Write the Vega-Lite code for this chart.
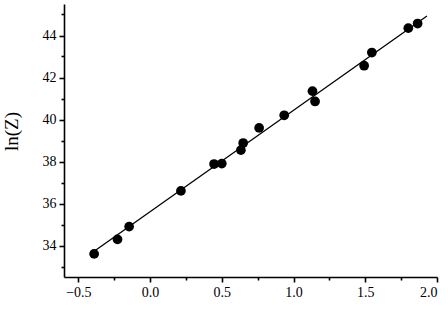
{
  "$schema": "https://vega.github.io/schema/vega-lite/v6.json",
  "width": 373,
  "height": 273,
  "autosize": "none",
  "padding": {"left": 64, "top": 4, "right": 11, "bottom": 35},
  "background": "white",
  "config": {
    "view": {"stroke": null},
    "axis": {"grid": false, "labelFont": "Liberation Serif", "titleFont": "Liberation Serif", "labelColor": "black", "titleColor": "black", "domainColor": "black", "tickColor": "black", "domainWidth": 1.6, "tickWidth": 1.6, "labelFontSize": 14}
  },
  "datasets": {
    "pts": [
      {"x": -0.39, "y": 33.6},
      {"x": -0.227, "y": 34.29},
      {"x": -0.146, "y": 34.9},
      {"x": 0.215, "y": 36.6},
      {"x": 0.446, "y": 37.88},
      {"x": 0.5, "y": 37.9},
      {"x": 0.633, "y": 38.54},
      {"x": 0.649, "y": 38.88},
      {"x": 0.76, "y": 39.6},
      {"x": 0.935, "y": 40.2},
      {"x": 1.132, "y": 41.35},
      {"x": 1.15, "y": 40.86},
      {"x": 1.492, "y": 42.56},
      {"x": 1.546, "y": 43.19},
      {"x": 1.8, "y": 44.35},
      {"x": 1.865, "y": 44.57}
    ],
    "fit": [
      {"x": -0.38, "y": 33.77},
      {"x": 1.93, "y": 44.93}
    ]
  },
  "layer": [
    {
      "data": {"name": "fit"},
      "mark": {"type": "line", "color": "black", "strokeWidth": 1.3},
      "encoding": {
        "x": {"field": "x", "type": "quantitative", "scale": {"domain": [-0.6, 2.0], "nice": false, "zero": false},
          "axis": {"values": [-0.5, 0, 0.5, 1, 1.5, 2], "format": ".1f", "title": null, "tickSize": 5, "labelPadding": 3, "labelFont": "Liberation Serif", "labelFontSize": 14}},
        "y": {"field": "y", "type": "quantitative", "scale": {"domain": [32.5, 45.5], "nice": false, "zero": false},
          "axis": {"values": [34, 36, 38, 40, 42, 44], "format": "d", "title": "ln(Z)", "titleFontSize": 19, "titleFontWeight": "normal", "tickSize": 5, "labelPadding": 3, "titlePadding": 21, "titleY": 127, "labelFont": "Liberation Serif", "labelFontSize": 14}}
      }
    },
    {
      "data": {"name": "pts"},
      "mark": {"type": "circle", "color": "black", "opacity": 1, "size": 95},
      "encoding": {
        "x": {"field": "x", "type": "quantitative",
          "axis": {"orient": "bottom", "values": [-0.25, 0.25, 0.75, 1.25, 1.75], "labels": false, "domain": false, "tickSize": 3, "title": null}},
        "y": {"field": "y", "type": "quantitative",
          "axis": {"orient": "left", "values": [33, 35, 37, 39, 41, 43, 45], "labels": false, "domain": false, "tickSize": 3, "title": null}}
      }
    }
  ],
  "resolve": {"axis": {"x": "independent", "y": "independent"}}
}
